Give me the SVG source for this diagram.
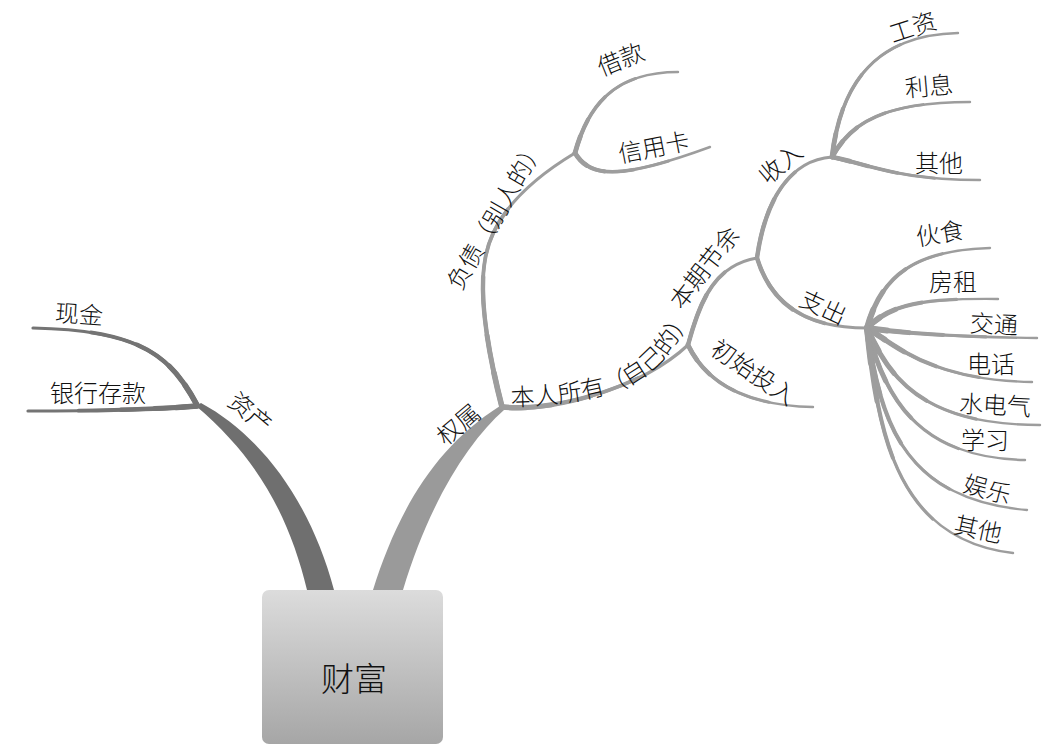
<svg xmlns="http://www.w3.org/2000/svg" width="1052" height="751" viewBox="0 0 1052 751">
<style>
text{font-family:"Noto Sans CJK SC","Noto Sans",sans-serif;fill:#111111;font-size:24px;font-weight:300}
.lab{text-anchor:middle}
.ln{fill:none;stroke:#9d9d9d;stroke-linecap:round}
.dk{stroke:#747474}
.l1{stroke-width:2.4}
.l2{stroke-width:3.0;stroke-dasharray:70 300}
.l3{stroke-width:3.6;stroke-dasharray:45 300}
.l4{stroke-width:4.2;stroke-dasharray:25 300}
.l5{stroke-width:4.8;stroke-dasharray:12 300}
.m1{stroke-width:3.2}
.m2{stroke-width:3.8;stroke-dasharray:70 300}
.m3{stroke-width:4.4;stroke-dasharray:45 300}
.m4{stroke-width:5.0;stroke-dasharray:25 300}
.m5{stroke-width:5.6;stroke-dasharray:12 300}
.f2{stroke-width:3.2;stroke-dasharray:70 300}
.f3{stroke-width:4.0;stroke-dasharray:45 300}
.f4{stroke-width:5.0;stroke-dasharray:25 300}
.f5{stroke-width:6.0;stroke-dasharray:12 300}
</style>
<defs>
<linearGradient id="boxg" x1="0" y1="0" x2="0" y2="1">
<stop offset="0" stop-color="#dcdcdc"/>
<stop offset="1" stop-color="#a6a6a6"/>
</linearGradient>
<path id="p-xj" pathLength="100" d="M197,405 C170,355 140,330 33,328"/>
<path id="p-yh" pathLength="100" d="M197,406 C150,410 80,411 28,411"/>
<path id="p-fz" pathLength="100" d="M502,407 C490,360 478,300 485,260 C492,215 530,180 575,153"/>
<path id="p-jk" pathLength="100" d="M575,153 C588,105 615,72 678,72"/>
<path id="p-xyk" pathLength="100" d="M575,153 C590,178 620,180 710,147"/>
<path id="p-br" pathLength="100" d="M502,407 C550,412 640,390 688,345"/>
<path id="p-bq" pathLength="100" d="M688,345 C700,300 715,265 757,258"/>
<path id="p-cs" pathLength="100" d="M688,345 C705,380 740,405 813,407"/>
<path id="p-sr" pathLength="100" d="M757,258 C765,200 790,160 832,157"/>
<path id="p-zc" pathLength="100" d="M757,258 C770,300 800,328 867,328"/>
<path id="p-gz" pathLength="100" d="M832,157 C840,90 870,35 958,33"/>
<path id="p-lx" pathLength="100" d="M832,157 C850,125 880,102 970,102"/>
<path id="p-qt1" pathLength="100" d="M832,157 C870,165 900,180 980,180"/>
<path id="p-hs" pathLength="100" d="M867,328 C880,280 910,250 990,248"/>
<path id="p-fzu" pathLength="100" d="M867,328 C890,305 920,298 998,299"/>
<path id="p-jt" pathLength="100" d="M867,328 C900,333 960,337 1037,338"/>
<path id="p-dh" pathLength="100" d="M867,328 C895,345 930,380 1032,382"/>
<path id="p-sdq" pathLength="100" d="M867,328 C890,380 925,425 1040,425"/>
<path id="p-xx" pathLength="100" d="M867,328 C885,400 920,458 1025,460"/>
<path id="p-yl" pathLength="100" d="M867,328 C880,430 910,500 1027,510"/>
<path id="p-qt2" pathLength="100" d="M867,328 C878,440 900,540 1013,553"/>
<path id="tp-br" d="M511,406 C555,405 600,399 628,386 C655,372 678,350 697,302"/>
</defs>
<rect width="1052" height="751" fill="#ffffff"/>
<g id="connectors">
<path d="M307,590 C290,520 260,460 196,406 L201,403 C260,435 310,500 334,590 Z" fill="#6f6f6f"/>
<path d="M373,590 C395,520 430,450 500,406 L504,410 C470,440 430,500 403,590 Z" fill="#9a9a9a"/>
<use href="#p-xj" class="ln dk m1"/><use href="#p-xj" class="ln dk m2"/><use href="#p-xj" class="ln dk m3"/><use href="#p-xj" class="ln dk m4"/><use href="#p-xj" class="ln dk m5"/>
<use href="#p-yh" class="ln dk m1"/><use href="#p-yh" class="ln dk m2"/><use href="#p-yh" class="ln dk m3"/><use href="#p-yh" class="ln dk m4"/><use href="#p-yh" class="ln dk m5"/>
<use href="#p-fz" class="ln m1"/><use href="#p-fz" class="ln m2"/><use href="#p-fz" class="ln m3"/><use href="#p-fz" class="ln m4"/><use href="#p-fz" class="ln m5"/>
<use href="#p-br" class="ln m1"/><use href="#p-br" class="ln m2"/><use href="#p-br" class="ln m3"/><use href="#p-br" class="ln m4"/><use href="#p-br" class="ln m5"/>
<use href="#p-bq" class="ln m1"/><use href="#p-bq" class="ln m2"/><use href="#p-bq" class="ln m3"/>
<use href="#p-cs" class="ln l1"/><use href="#p-cs" class="ln l2"/><use href="#p-cs" class="ln l3"/><use href="#p-cs" class="ln l4"/><use href="#p-cs" class="ln l5"/>
<use href="#p-sr" class="ln m1"/><use href="#p-sr" class="ln m2"/><use href="#p-sr" class="ln m3"/>
<use href="#p-zc" class="ln m1"/><use href="#p-zc" class="ln m2"/><use href="#p-zc" class="ln m3"/>
<use href="#p-jk" class="ln l1"/><use href="#p-jk" class="ln l2"/><use href="#p-jk" class="ln l3"/><use href="#p-jk" class="ln l4"/><use href="#p-jk" class="ln l5"/>
<use href="#p-xyk" class="ln l1"/><use href="#p-xyk" class="ln l2"/><use href="#p-xyk" class="ln l3"/><use href="#p-xyk" class="ln l4"/><use href="#p-xyk" class="ln l5"/>
<use href="#p-gz" class="ln l1"/><use href="#p-gz" class="ln l2"/><use href="#p-gz" class="ln l3"/><use href="#p-gz" class="ln l4"/><use href="#p-gz" class="ln l5"/>
<use href="#p-lx" class="ln l1"/><use href="#p-lx" class="ln l2"/><use href="#p-lx" class="ln l3"/><use href="#p-lx" class="ln l4"/><use href="#p-lx" class="ln l5"/>
<use href="#p-qt1" class="ln l1"/><use href="#p-qt1" class="ln l2"/><use href="#p-qt1" class="ln l3"/><use href="#p-qt1" class="ln l4"/><use href="#p-qt1" class="ln l5"/>
<use href="#p-hs" class="ln l1"/><use href="#p-hs" class="ln f2"/><use href="#p-hs" class="ln f3"/><use href="#p-hs" class="ln f4"/><use href="#p-hs" class="ln f5"/>
<use href="#p-fzu" class="ln l1"/><use href="#p-fzu" class="ln f2"/><use href="#p-fzu" class="ln f3"/><use href="#p-fzu" class="ln f4"/><use href="#p-fzu" class="ln f5"/>
<use href="#p-jt" class="ln l1"/><use href="#p-jt" class="ln f2"/><use href="#p-jt" class="ln f3"/><use href="#p-jt" class="ln f4"/><use href="#p-jt" class="ln f5"/>
<use href="#p-dh" class="ln l1"/><use href="#p-dh" class="ln f2"/><use href="#p-dh" class="ln f3"/><use href="#p-dh" class="ln f4"/><use href="#p-dh" class="ln f5"/>
<use href="#p-sdq" class="ln l1"/><use href="#p-sdq" class="ln f2"/><use href="#p-sdq" class="ln f3"/><use href="#p-sdq" class="ln f4"/><use href="#p-sdq" class="ln f5"/>
<use href="#p-xx" class="ln l1"/><use href="#p-xx" class="ln f2"/><use href="#p-xx" class="ln f3"/><use href="#p-xx" class="ln f4"/><use href="#p-xx" class="ln f5"/>
<use href="#p-yl" class="ln l1"/><use href="#p-yl" class="ln f2"/><use href="#p-yl" class="ln f3"/><use href="#p-yl" class="ln f4"/><use href="#p-yl" class="ln f5"/>
<use href="#p-qt2" class="ln l1"/><use href="#p-qt2" class="ln f2"/><use href="#p-qt2" class="ln f3"/><use href="#p-qt2" class="ln f4"/><use href="#p-qt2" class="ln f5"/>
</g>
<g id="node-root">
<rect x="262" y="590" width="181" height="154" rx="7" fill="url(#boxg)"/>
<text class="lab" x="354" y="691" style="font-size:33px">财富</text>
</g>
<g id="node-zichan"><text class="lab" transform="translate(250,413) rotate(40)" y="8">资产</text></g>
<g id="node-xianjin"><text class="lab" transform="translate(79,315) rotate(4)" y="8">现金</text></g>
<g id="node-yinhang"><text class="lab" transform="translate(98,394)" y="8">银行存款</text></g>
<g id="node-quanshu"><text class="lab" transform="translate(459,425) rotate(-40)" y="8">权属</text></g>
<g id="node-fuzhai"><text class="lab" transform="translate(496,215) rotate(-60)" y="8">负债（别人的）</text></g>
<g id="node-jiekuan"><text class="lab" transform="translate(621,60) rotate(-22)" y="8">借款</text></g>
<g id="node-xinyongka"><text class="lab" transform="translate(654,148) rotate(-11)" y="8">信用卡</text></g>
<g id="node-benren"><text><textPath href="#tp-br">本人所有（自己的）</textPath></text></g>
<g id="node-benqi"><text class="lab" transform="translate(705,268) rotate(-52)" y="8">本期节余</text></g>
<g id="node-chushi"><text class="lab" transform="translate(753,373) rotate(34)" y="8">初始投入</text></g>
<g id="node-shouru"><text class="lab" transform="translate(781,164) rotate(-40)" y="8">收入</text></g>
<g id="node-zhichu"><text class="lab" transform="translate(823,308) rotate(25)" y="8">支出</text></g>
<g id="node-gongzi"><text class="lab" transform="translate(913,28) rotate(-18)" y="8">工资</text></g>
<g id="node-lixi"><text class="lab" transform="translate(929,87) rotate(-5)" y="8">利息</text></g>
<g id="node-qita1"><text class="lab" transform="translate(939,164)" y="8">其他</text></g>
<g id="node-huoshi"><text class="lab" transform="translate(940,234) rotate(-10)" y="8">伙食</text></g>
<g id="node-fangzu"><text class="lab" transform="translate(953,283)" y="8">房租</text></g>
<g id="node-jiaotong"><text class="lab" transform="translate(994,325) rotate(3)" y="8">交通</text></g>
<g id="node-dianhua"><text class="lab" transform="translate(991,365)" y="8">电话</text></g>
<g id="node-shuidianqi"><text class="lab" transform="translate(995,406) rotate(3)" y="8">水电气</text></g>
<g id="node-xuexi"><text class="lab" transform="translate(985,441)" y="8">学习</text></g>
<g id="node-yule"><text class="lab" transform="translate(987,490) rotate(15)" y="8">娱乐</text></g>
<g id="node-qita2"><text class="lab" transform="translate(978,530) rotate(12)" y="8">其他</text></g>
</svg>
